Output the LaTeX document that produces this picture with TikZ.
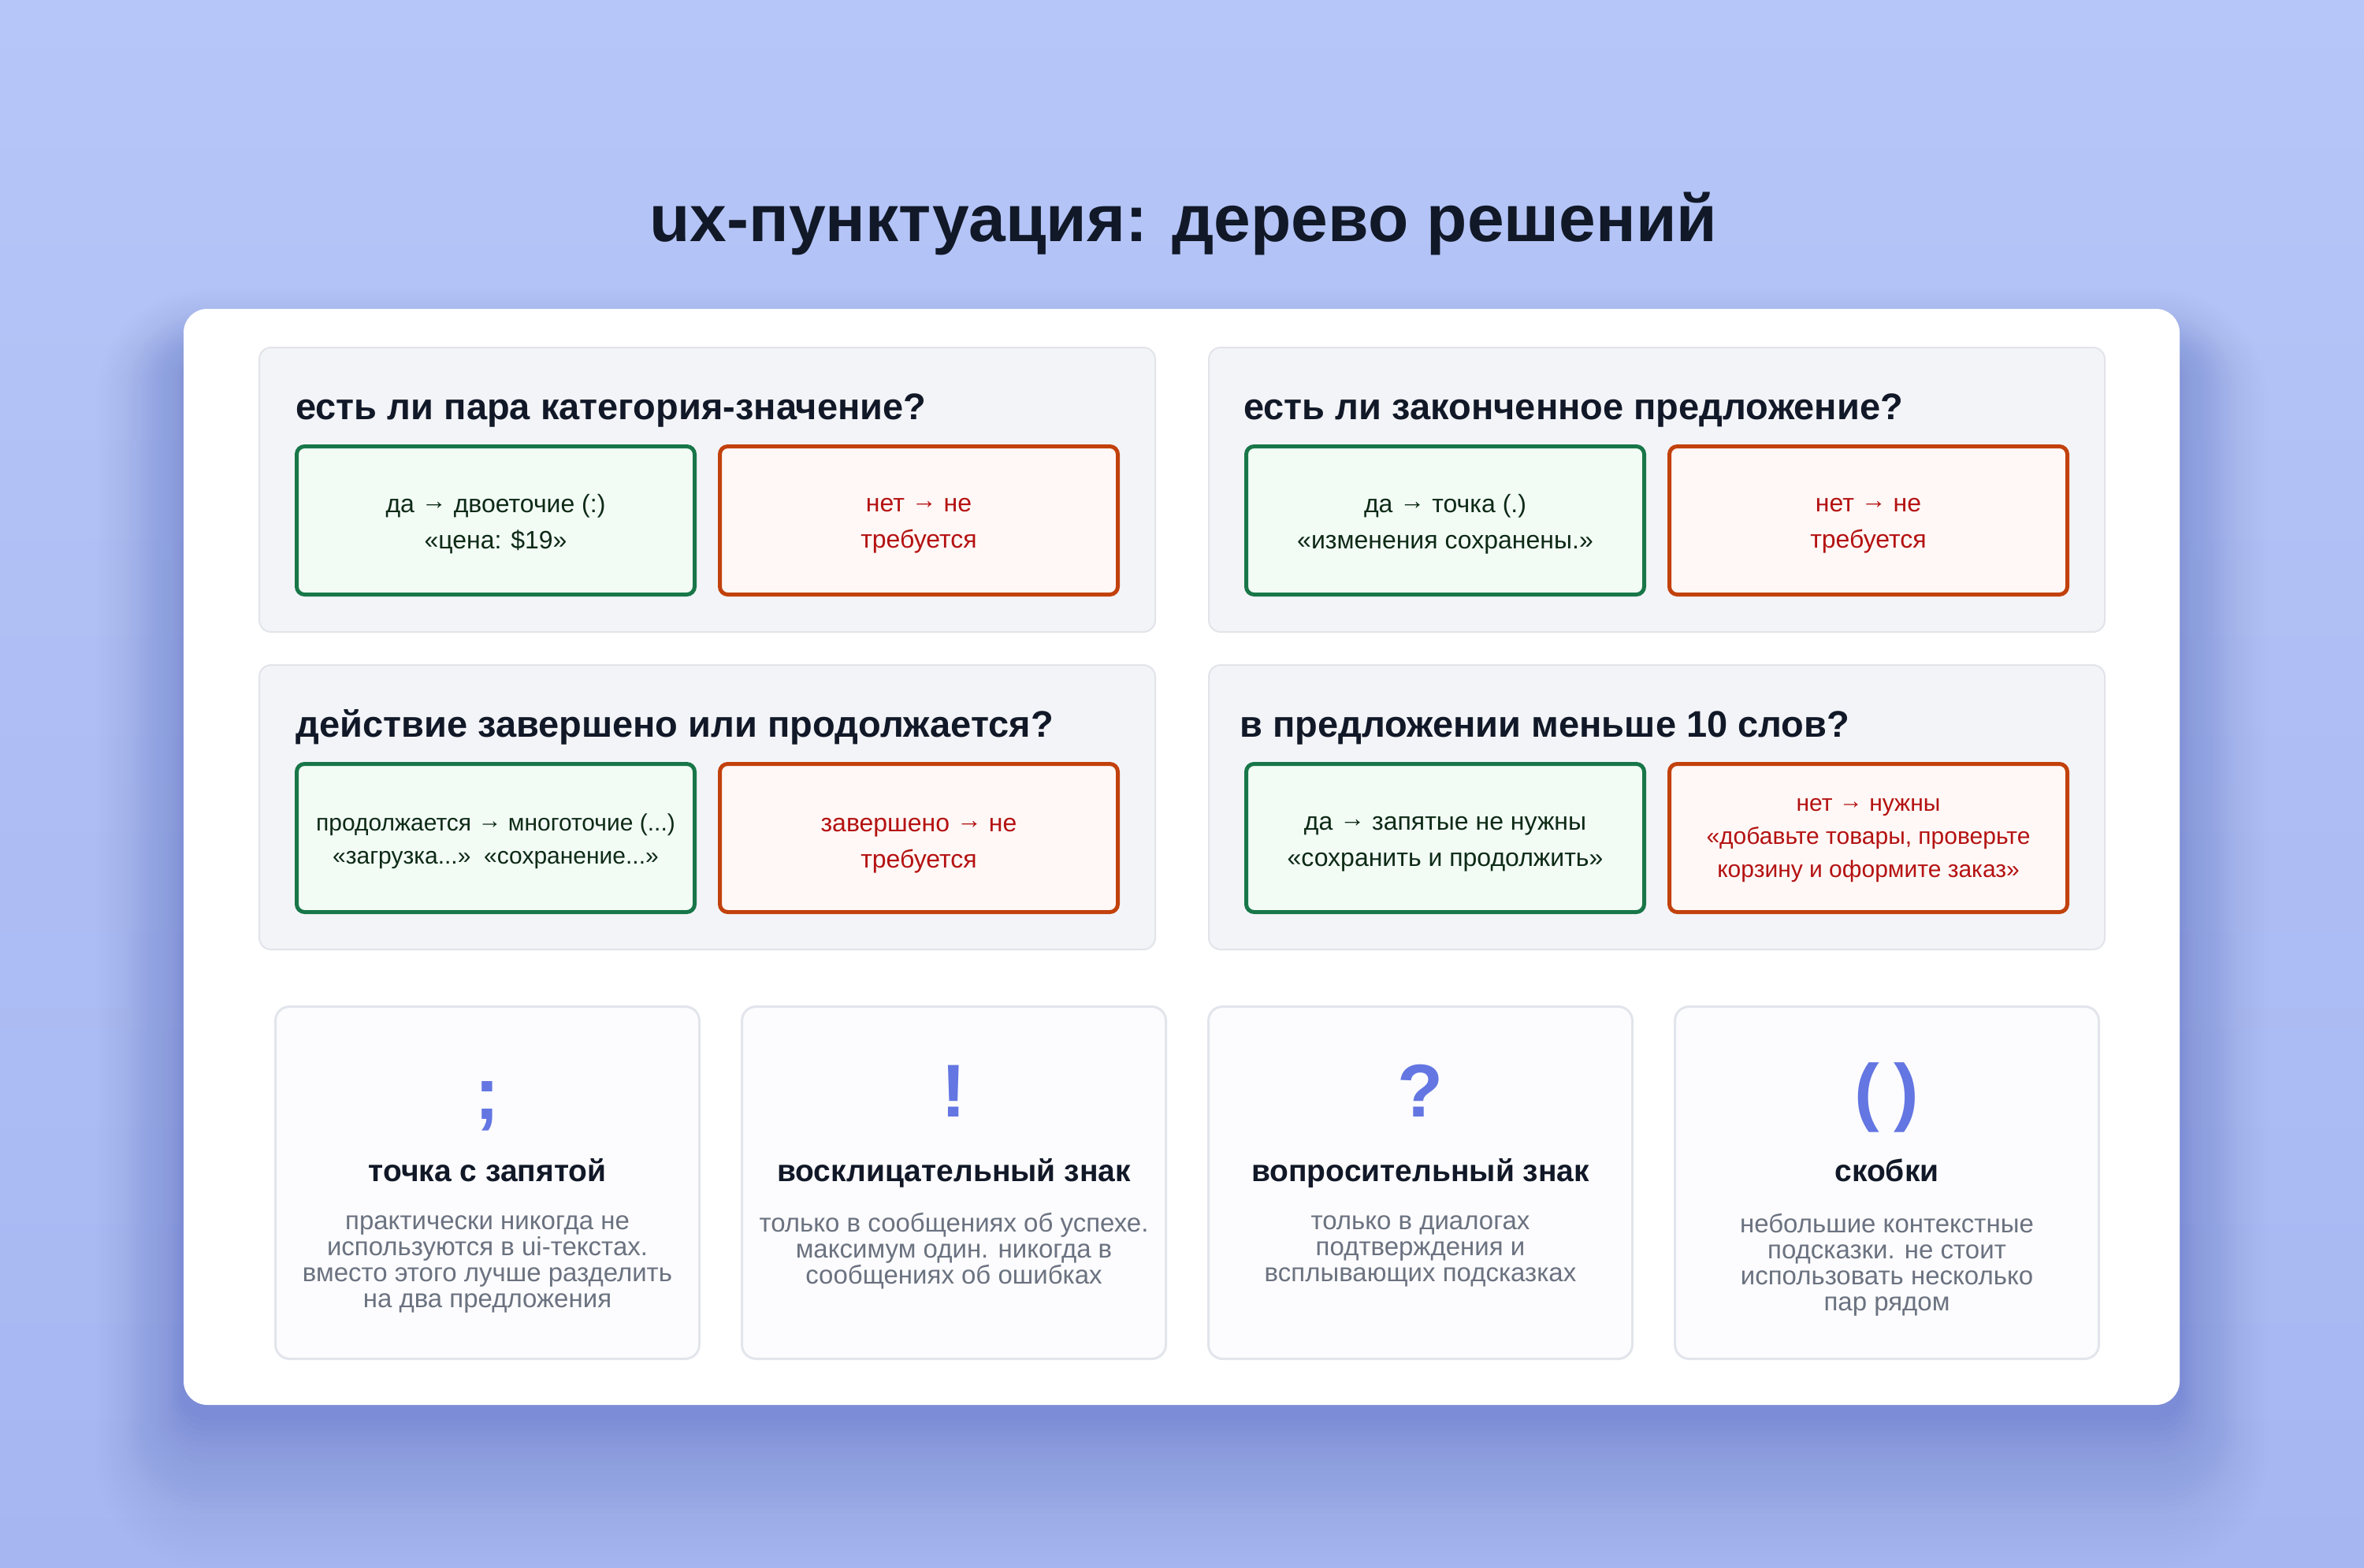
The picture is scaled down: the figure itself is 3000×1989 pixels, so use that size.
\documentclass[tikz,border=0pt]{standalone}
\usepackage{fontspec}
\setmainfont{Liberation Sans}
\definecolor{bgtop}{RGB}{182,198,248}
\definecolor{bgbot}{RGB}{166,182,241}
\definecolor{shadowc}{RGB}{70,90,200}
\definecolor{ink}{RGB}{17,24,39}
\definecolor{panelfill}{RGB}{243,244,248}
\definecolor{panelborder}{RGB}{226,228,234}
\definecolor{cardborder}{RGB}{226,229,235}
\definecolor{cardfill}{RGB}{252,252,254}
\definecolor{yesborder}{RGB}{24,118,72}
\definecolor{yesfill}{RGB}{242,252,245}
\definecolor{yestext}{RGB}{14,42,22}
\definecolor{noborder}{RGB}{194,65,12}
\definecolor{nofill}{RGB}{255,248,246}
\definecolor{notext}{RGB}{180,18,18}
\definecolor{symc}{RGB}{99,118,226}
\definecolor{descc}{RGB}{107,114,128}
\newcommand\mytitlefont{\fontsize{84}{100}\selectfont\bfseries}
\newcommand\myqfont{\fontsize{47}{56}\selectfont\bfseries}
\newcommand\myboxfont{\fontsize{32}{46}\selectfont}
\newcommand\mysmallboxfont{\fontsize{30}{42}\selectfont}
\newcommand\mysymfont{\fontsize{95}{110}\selectfont\bfseries}
\newcommand\mycardtitlefont{\fontsize{39}{46}\selectfont\bfseries}
\newcommand\mydescfont{\fontsize{33}{33}\selectfont}
\newcommand\arr{\raisebox{0.12em}{→}}
\tikzset{
  panel/.style={draw=panelborder, line width=2pt, fill=panelfill, rounded corners=15pt,
    minimum width=1137pt, minimum height=361pt, inner sep=0pt},
  yesbox/.style={draw=yesborder, line width=5pt, fill=yesfill, rounded corners=10pt,
    minimum width=505pt, minimum height=188pt, inner sep=0pt},
  nobox/.style={draw=noborder, line width=5pt, fill=nofill, rounded corners=10pt,
    minimum width=505pt, minimum height=188pt, inner sep=0pt},
  yeslabel/.style={inner sep=0pt, align=center, text=yestext, font=\myboxfont},
  nolabel/.style={inner sep=0pt, align=center, text=notext, font=\myboxfont},
  question/.style={anchor=base west, inner sep=0pt, text=ink, font=\myqfont},
  infocard/.style={draw=cardborder, line width=3pt, fill=cardfill, rounded corners=18pt,
    minimum width=538pt, minimum height=447pt, inner sep=0pt},
  symbol/.style={anchor=base, inner sep=0pt, text=symc, font=\mysymfont},
  cardtitle/.style={anchor=base, inner sep=0pt, text=ink, font=\mycardtitlefont},
  desc/.style={anchor=center, inner sep=0pt, align=center, text=descc, font=\mydescfont}
}
\begin{document}
\begin{tikzpicture}[x=1pt,y=-1pt]
\useasboundingbox (0,0) rectangle (3000,1989);
\shade[top color=bgtop, bottom color=bgbot] (0,0) rectangle (3000,1989);
% soft shadow under the white card
\foreach \i in {1,...,30}{
  \pgfmathsetmacro\rr{30+4*\i}
  \pgfmathsetmacro\op{0.0008*(31-\i)}
  \fill[shadowc, fill opacity=\op, rounded corners=\rr pt] ({233-4*\i},{450-3*\i}) rectangle ({2766+4*\i},{1795+7*\i});
}
% title
\node[anchor=base, inner sep=0pt, text=ink, font=\mytitlefont] (title) at (1502,306) {ux-пунктуация: дерево решений};
% white card
\node[fill=white, rounded corners=30pt, minimum width=2533pt, minimum height=1391pt, inner sep=0pt] (card) at (1499.5,1087.5) {};

% panel 1
\node[panel] (p1) at (897.5,621.5) {};
\node[question] (q1) at (375,532) {есть ли пара категория-значение?};
\node[yesbox] (p1yes) at (629,660.5) {};
\node[yeslabel] (p1yest) at (629,665) {да \arr{} двоеточие (:)\\«цена: \$19»};
\node[nobox] (p1no) at (1166,660.5) {};
\node[nolabel] (p1not) at (1166,667) {нет \arr{} не\\требуется};

% panel 2
\node[panel] (p2) at (2102.5,621.5) {};
\node[question] (q2) at (1578,532) {есть ли законченное предложение?};
\node[yesbox] (p2yes) at (1834,660.5) {};
\node[yeslabel] (p2yest) at (1834,665) {да \arr{} точка (.)\\«изменения сохранены.»};
\node[nobox] (p2no) at (2371,660.5) {};
\node[nolabel] (p2not) at (2371,667) {нет \arr{} не\\требуется};

% panel 3
\node[panel] (p3) at (897.5,1024.5) {};
\node[question] (q3) at (375,935) {действие завершено или продолжается?};
\node[yesbox] (p3yes) at (629,1063.5) {};
\node[yeslabel, font=\mysmallboxfont] (p3yest) at (629,1068) {продолжается \arr{} многоточие (...)\\«загрузка...»\ \ «сохранение...»};
\node[nobox] (p3no) at (1166,1063.5) {};
\node[nolabel] (p3not) at (1166,1073) {завершено \arr{} не\\требуется};

% panel 4
\node[panel] (p4) at (2102.5,1024.5) {};
\node[question] (q4) at (1573,935) {в предложении меньше 10 слов?};
\node[yesbox] (p4yes) at (1834,1063.5) {};
\node[yeslabel] (p4yest) at (1834,1071) {да \arr{} запятые не нужны\\«сохранить и продолжить»};
\node[nobox] (p4no) at (2371,1063.5) {};
\node[nolabel, font=\mysmallboxfont] (p4not) at (2371,1067) {нет \arr{} нужны\\«добавьте товары, проверьте\\корзину и оформите заказ»};

% bottom cards
\node[infocard] (c1) at (618.5,1501) {};
\node[symbol] (s1) at (618.5,1420) {;};
\node[cardtitle] (t1) at (618.5,1499) {точка с запятой};
\node[desc] (d1) at (618.5,1605) {практически никогда не\\используются в ui-текстах.\\вместо этого лучше разделить\\на два предложения};

\node[infocard] (c2) at (1210.5,1501) {};
\node[symbol] (s2) at (1210.5,1417) {!};
\node[cardtitle] (t2) at (1210.5,1499) {восклицательный знак};
\node[desc] (d2) at (1210.5,1588) {только в сообщениях об успехе.\\максимум один. никогда в\\сообщениях об ошибках};

\node[infocard] (c3) at (1802.5,1501) {};
\node[symbol] (s3) at (1802.5,1417) {?};
\node[cardtitle] (t3) at (1802.5,1499) {вопросительный знак};
\node[desc] (d3) at (1802.5,1588) {только в диалогах\\подтверждения и\\всплывающих подсказках};

\node[infocard] (c4) at (2394.5,1501) {};
\node[symbol] (s4) at (2394.5,1417) {(\kern18pt)};
\node[cardtitle] (t4) at (2394.5,1499) {скобки};
\node[desc] (d4) at (2394.5,1605) {небольшие контекстные\\подсказки. не стоит\\использовать несколько\\пар рядом};
\end{tikzpicture}
\end{document}
